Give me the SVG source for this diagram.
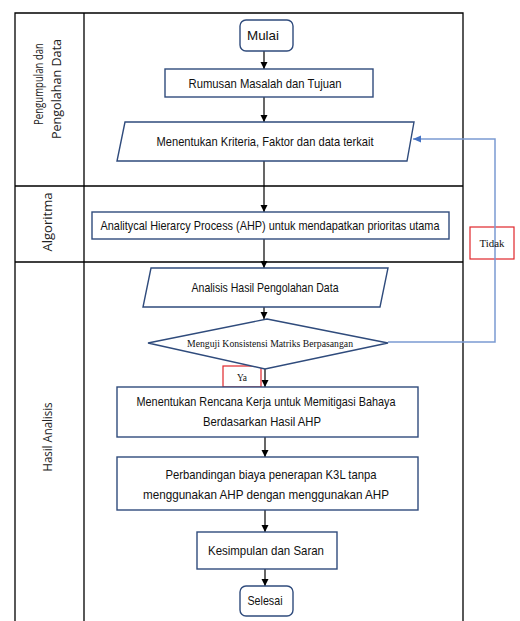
<svg xmlns="http://www.w3.org/2000/svg" width="520" height="621" viewBox="0 0 520 621">
<defs>
<marker id="ah" markerWidth="8" markerHeight="8" refX="7" refY="4" orient="auto" markerUnits="userSpaceOnUse">
<path d="M0,0.5 L7,4 L0,7.5 Z" fill="#000"/>
</marker>
<marker id="ahb" markerWidth="9" markerHeight="8" refX="8" refY="4" orient="auto" markerUnits="userSpaceOnUse">
<path d="M0,0.5 L8,4 L0,7.5 Z" fill="#4472c4"/>
</marker>
<style>
.lane{fill:none;stroke:#000;stroke-width:1.3}
.box{fill:#fff;stroke:#2f4b7c;stroke-width:1.4}
.t{font-family:"Liberation Sans",Arial,sans-serif;font-size:13px;fill:#111;text-anchor:middle}
.s{font-family:"Liberation Serif","Times New Roman",serif;font-size:11px;fill:#111;text-anchor:middle}
.ln{font-family:"Open Sans","Liberation Sans",sans-serif;font-size:12px;fill:#222;text-anchor:middle}
.c{fill:none;stroke:#000;stroke-width:1.2}
.fb{fill:none;stroke:#7b9bd2;stroke-width:1.5}
.red{fill:none;stroke:#e0262b;stroke-width:1.2}
</style>
</defs>
<rect width="520" height="621" fill="#fff"/>

<g id="lanes">
<path class="lane" d="M15,621 V13 H463 V621 M84,13 V621 M15,186 H463 M15,262 H463"/>
<text class="ln" transform="translate(43,84) rotate(-90)" font-size="11.5" textLength="82" lengthAdjust="spacingAndGlyphs">Pengumpulan dan</text>
<text class="ln" transform="translate(61,89) rotate(-90)" textLength="100" lengthAdjust="spacingAndGlyphs">Pengolahan Data</text>
<text class="ln" transform="translate(52,222) rotate(-90)" textLength="59" lengthAdjust="spacingAndGlyphs">Algoritma</text>
<text class="ln" transform="translate(52,437) rotate(-90)" font-size="11.5" textLength="69" lengthAdjust="spacingAndGlyphs">Hasil Analisis</text>
</g>

<g id="connectors">
<line class="c" x1="264" y1="51" x2="264" y2="69" marker-end="url(#ah)"/>
<line class="c" x1="264" y1="97" x2="264" y2="122" marker-end="url(#ah)"/>
<line class="c" x1="264" y1="161" x2="264" y2="212" marker-end="url(#ah)"/>
<line class="c" x1="264" y1="239" x2="264" y2="268" marker-end="url(#ah)"/>
<line class="c" x1="264" y1="307" x2="264" y2="319" marker-end="url(#ah)"/>
<line class="c" x1="265" y1="369" x2="265" y2="387" marker-end="url(#ah)"/>
<line class="c" x1="265" y1="437" x2="265" y2="457" marker-end="url(#ah)"/>
<line class="c" x1="265" y1="510" x2="265" y2="532" marker-end="url(#ah)"/>
<line class="c" x1="265" y1="569" x2="265" y2="586" marker-end="url(#ah)"/>
<rect class="red" x="470" y="227" width="44" height="32"/>
<polyline class="fb" points="388,342 495,342 495,139 413,139" marker-end="url(#ahb)"/>
<text class="s" x="492" y="247" font-size="12" textLength="25" lengthAdjust="spacingAndGlyphs">Tidak</text>
<rect class="red" x="223" y="366" width="38" height="21"/>
<text class="s" x="242" y="381" textLength="10" lengthAdjust="spacingAndGlyphs">Ya</text>
</g>

<g id="mulai">
<rect class="box" x="240" y="20" width="53" height="31" rx="6"/>
<text class="t" x="263" y="40" textLength="32" lengthAdjust="spacingAndGlyphs">Mulai</text>
</g>
<g id="rumusan">
<rect class="box" x="165" y="69" width="208" height="28"/>
<text class="t" x="265" y="88" textLength="153" lengthAdjust="spacingAndGlyphs">Rumusan Masalah dan Tujuan</text>
</g>
<g id="kriteria">
<polygon class="box" points="125,122 414,122 407,161 117,161"/>
<text class="t" x="265" y="146" textLength="217" lengthAdjust="spacingAndGlyphs">Menentukan Kriteria, Faktor dan data terkait</text>
</g>
<g id="ahp">
<rect class="box" x="92" y="212" width="357" height="27"/>
<text class="t" x="270" y="230" textLength="339" lengthAdjust="spacingAndGlyphs">Analitycal Hierarcy Process (AHP) untuk mendapatkan prioritas utama</text>
</g>
<g id="analisis">
<polygon class="box" points="151,268 388,268 380,307 143,307"/>
<text class="t" x="265" y="292" textLength="147" lengthAdjust="spacingAndGlyphs">Analisis Hasil Pengolahan Data</text>
</g>
<g id="uji">
<polygon class="box" points="267,319 388,343 265,369 148,343"/>
<text class="s" x="270" y="347" textLength="166" lengthAdjust="spacingAndGlyphs">Menguji Konsistensi Matriks Berpasangan</text>
</g>
<g id="rencana">
<rect class="box" x="117" y="387" width="301" height="50"/>
<text class="t" x="266" y="406" textLength="259" lengthAdjust="spacingAndGlyphs">Menentukan Rencana Kerja untuk Memitigasi Bahaya</text>
<text class="t" x="262" y="426" textLength="118" lengthAdjust="spacingAndGlyphs">Berdasarkan Hasil AHP</text>
</g>
<g id="perbandingan">
<rect class="box" x="117" y="457" width="301" height="53"/>
<text class="t" x="271" y="479" textLength="211" lengthAdjust="spacingAndGlyphs">Perbandingan biaya penerapan K3L tanpa</text>
<text class="t" x="266" y="499" textLength="246" lengthAdjust="spacingAndGlyphs">menggunakan AHP dengan menggunakan AHP</text>
</g>
<g id="kesimpulan">
<rect class="box" x="197" y="532" width="140" height="37"/>
<text class="t" x="266" y="555" textLength="116" lengthAdjust="spacingAndGlyphs">Kesimpulan dan Saran</text>
</g>
<g id="selesai">
<rect class="box" x="240" y="586" width="53" height="30" rx="6"/>
<text class="t" x="265" y="605" textLength="35" lengthAdjust="spacingAndGlyphs">Selesai</text>
</g>
</svg>
